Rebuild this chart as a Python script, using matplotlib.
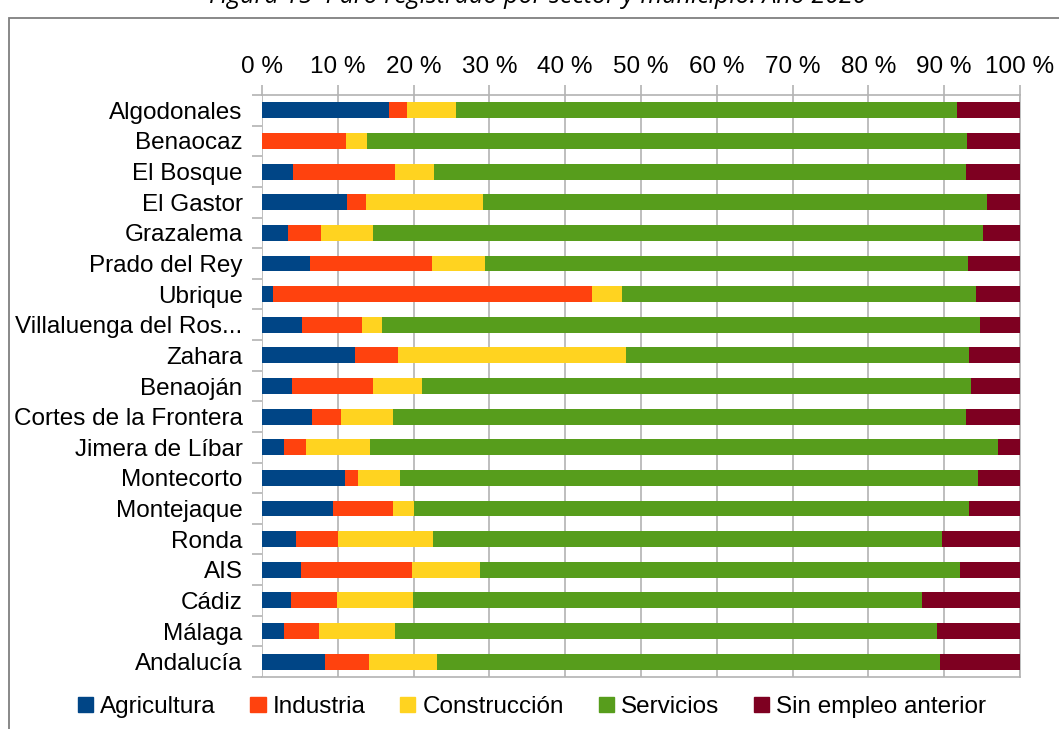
import matplotlib
matplotlib.use("Agg")
import matplotlib.pyplot as plt
import matplotlib.patches as mpatches
import numpy as np

categories = ["Algodonales", "Benaocaz", "El Bosque", "El Gastor", "Grazalema",
              "Prado del Rey", "Ubrique", "Villaluenga del Ros...", "Zahara",
              "Benaoján", "Cortes de la Frontera", "Jimera de Líbar", "Montecorto",
              "Montejaque", "Ronda", "AIS", "Cádiz", "Málaga", "Andalucía"]

agricultura  = [16.8, 0.0, 4.1, 11.2, 3.4, 6.3, 1.4, 5.3, 12.3, 4.0, 6.6, 2.9, 11.0, 9.4, 4.5, 5.1, 3.8, 2.9, 8.3]
industria    = [2.3, 11.1, 13.4, 2.5, 4.4, 16.1, 42.1, 7.9, 5.6, 10.6, 3.8, 2.9, 1.7, 7.9, 5.5, 14.7, 6.1, 4.6, 5.8]
construccion = [6.5, 2.8, 5.2, 15.5, 6.8, 7.0, 4.0, 2.6, 30.1, 6.5, 6.9, 8.4, 5.5, 2.8, 12.5, 9.0, 10.0, 10.0, 9.0]
servicios    = [66.1, 79.1, 70.2, 66.4, 80.5, 63.7, 46.7, 78.9, 45.3, 72.4, 75.6, 82.9, 76.3, 73.2, 67.2, 63.3, 67.2, 71.6, 66.3]
sin_empleo   = [8.3, 7.0, 7.1, 4.4, 4.9, 6.9, 5.8, 5.3, 6.7, 6.5, 7.1, 2.9, 5.5, 6.7, 10.3, 7.9, 12.9, 10.9, 10.6]

series = ["Agricultura", "Industria", "Construcción", "Servicios", "Sin empleo anterior"]
colors = ["#004586", "#ff420e", "#ffd320", "#579d1c", "#7e0021"]
xticks = list(range(0, 101, 10))

W, H = 1059, 729
FS = 17.5
fig = plt.figure(figsize=(W / 100, H / 100), dpi=100)
plt.rcParams['font.family'] = ['Liberation Sans', 'DejaVu Sans']

ax = fig.add_axes([262 / W, 1 - 677 / H, (1020 - 262) / W, (677 - 95) / H])

data = [agricultura, industria, construccion, servicios, sin_empleo]
y = np.arange(len(categories))
left = np.zeros(len(categories))
for vals, name, c in zip(data, series, colors):
    v = np.array(vals)
    ax.barh(y, v, left=left, height=0.52, color=c, label=name, zorder=3)
    left += v

ax.set_xlim(0, 100)
ax.set_ylim(len(categories) - 0.5, -0.5)
ax.xaxis.tick_top()
ax.set_xticks(xticks)
ax.set_xticklabels([f"{t} %" for t in xticks], fontsize=FS)
ax.tick_params(axis='x', length=7, color='#b3b3b3', width=1.2, pad=5)
ax.grid(axis='x', color='#b3b3b3', linewidth=1.2, zorder=0)

ax.set_yticks(y)
ax.set_yticklabels(categories, fontsize=FS)
ax.tick_params(axis='y', which='major', length=0, pad=14)
ax.set_yticks(np.arange(-0.5, len(categories) + 0.5, 1), minor=True)
ax.tick_params(axis='y', which='minor', length=7, color='#b3b3b3', width=1.2)

for s in ['left', 'right', 'bottom', 'top']:
    ax.spines[s].set_color('#b3b3b3')
    ax.spines[s].set_linewidth(1.2)
ax.spines['left'].set_visible(False)

handles = [mpatches.Patch(color=c, label=n) for n, c in zip(series, colors)]
fig.legend(handles=handles, loc='center', bbox_to_anchor=(532 / W, 1 - 707 / H),
           ncol=5, frameon=False, fontsize=FS, handlelength=0.62, handleheight=0.62,
           handletextpad=0.3, columnspacing=1.42, borderpad=0)

# outer frame
fig.add_artist(mpatches.Rectangle((8.5 / W, -0.1), 1.2, 1.1 - 18 / H,
                                  transform=fig.transFigure, fill=False,
                                  edgecolor='#7f7f7f', linewidth=1.3))

fig.text(538 / W, 1 - 3 / H, "Figura 15  Paro registrado por sector y municipio. Año 2020",
         ha='center', va='baseline', fontsize=18, style='italic', family='Open Sans')

fig.savefig("out.png", dpi=100)
